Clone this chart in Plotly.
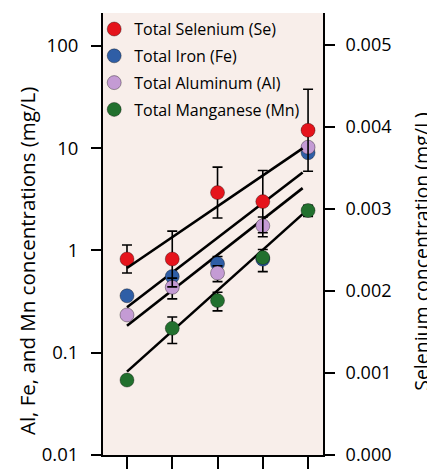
import plotly.graph_objects as go

# ---- data ----
sites = [1, 2, 3, 4, 5]

se = [0.00239, 0.00239, 0.00320, 0.00309, 0.00396]
se_err = [0.00017, 0.00034, 0.00031, 0.00038, 0.00050]

fe = [0.36, 0.555, 0.74, 0.82, 9.0]
fe_err = [0, 0, 0.13, 0.2, 0]

al = [0.234, 0.436, 0.60, 1.74, 10.2]
al_err = [0, 0.10, 0.105, 0.38, 0]

mn = [0.054, 0.173, 0.323, 0.85, 2.45]
mn_err = [0, 0.05, 0.067, 0, 0.3]

fit_x = [1, 4.88]
se_fit = [0.00228, 0.00374]
fe_fit = [0.278, 5.77]
al_fit = [0.183, 4.06]
mn_fit = [0.0653, 2.26]

left_ticks = [0.01, 0.1, 1, 10, 100]
left_labels = ["0.01", "0.1", "1", "10", "100"]
right_ticks = [0.0, 0.001, 0.002, 0.003, 0.004, 0.005]
right_labels = ["0.000", "0.001", "0.002", "0.003", "0.004", "0.005"]

names = ["Total Selenium (Se)", "Total Iron (Fe)", "Total Aluminum (Al)", "Total Manganese (Mn)"]
colors = ["#e5141c", "#2f5ea6", "#c49bd4", "#22702e"]

FONT = "Open Sans"

fig = go.Figure()

def err(arr):
    return dict(type="data", array=arr, visible=True, color="black", thickness=1.6, width=5)

# regression lines (drawn first)
for yv in [fe_fit, al_fit, mn_fit]:
    fig.add_trace(go.Scatter(x=fit_x, y=yv, mode="lines", yaxis="y", showlegend=False,
                             line=dict(color="black", width=2.6), hoverinfo="skip"))

mk = lambda c: dict(color=c, size=14, line=dict(color="rgba(0,0,0,0.35)", width=1))

fig.add_trace(go.Scatter(x=sites, y=se, mode="markers", name=names[0], yaxis="y2",
                         marker=mk(colors[0]), error_y=err(se_err), legendgroup="a"))
fig.add_trace(go.Scatter(x=sites, y=fe, mode="markers", name=names[1], yaxis="y",
                         marker=mk(colors[1]), error_y=err(fe_err), legendgroup="b"))
fig.add_trace(go.Scatter(x=sites, y=al, mode="markers", name=names[2], yaxis="y",
                         marker=mk(colors[2]), error_y=err(al_err), legendgroup="c"))
fig.add_trace(go.Scatter(x=sites, y=mn, mode="markers", name=names[3], yaxis="y",
                         marker=mk(colors[3]), error_y=err(mn_err), legendgroup="d"))
fig.add_trace(go.Scatter(x=fit_x, y=se_fit, mode="lines", yaxis="y2", showlegend=False,
                         line=dict(color="black", width=2.6), hoverinfo="skip"))

fig.update_layout(
    width=427, height=462,
    margin=dict(l=95, r=112, t=5, b=15, autoexpand=False),
    paper_bgcolor="white",
    plot_bgcolor="#f8eeea",
    font=dict(family=FONT, color="black"),
    showlegend=True,
    legend=dict(x=-0.04, y=1.002, xanchor="left", yanchor="top",
                bgcolor="rgba(0,0,0,0)", font=dict(size=16, family=FONT, color="black"),
                tracegroupgap=3, itemwidth=30),
    xaxis=dict(range=[0.47, 5.33], tickvals=sites, showticklabels=False,
               ticks="outside", ticklen=12, tickwidth=2, tickcolor="black",
               showline=True, linecolor="black", linewidth=2,
               showgrid=False, zeroline=False),
    yaxis=dict(type="log", range=[-2, 2.32], tickvals=left_ticks, ticktext=left_labels,
               ticks="outside", ticklen=10, tickwidth=2, tickcolor="black",
               ticklabelstandoff=9,
               showline=True, linecolor="black", linewidth=2,
               showgrid=False, zeroline=False,
               tickfont=dict(size=18.5, family=FONT, color="black")),
    yaxis2=dict(overlaying="y", side="right", range=[0, 0.00539],
                tickvals=right_ticks, ticktext=right_labels,
                ticks="outside", ticklen=10, tickwidth=2, tickcolor="black",
                ticklabelstandoff=7,
                showline=True, linecolor="black", linewidth=2,
                showgrid=False, zeroline=False,
                tickfont=dict(size=18, family=FONT, color="black")),
    annotations=[
        dict(text="Al, Fe, and Mn concentrations (mg/L)", xref="paper", yref="paper",
             x=-0.345, y=0.439, textangle=-90, showarrow=False,
             font=dict(size=20.5, family=FONT, color="black"),
             xanchor="center", yanchor="middle"),
        dict(text="Selenium concentration (mg/L)", xref="paper", yref="paper",
             x=1.448, y=0.461, textangle=-90, showarrow=False,
             font=dict(size=19.5, family=FONT, color="black"),
             xanchor="center", yanchor="middle"),
    ],
)

fig.write_html("out.html")
